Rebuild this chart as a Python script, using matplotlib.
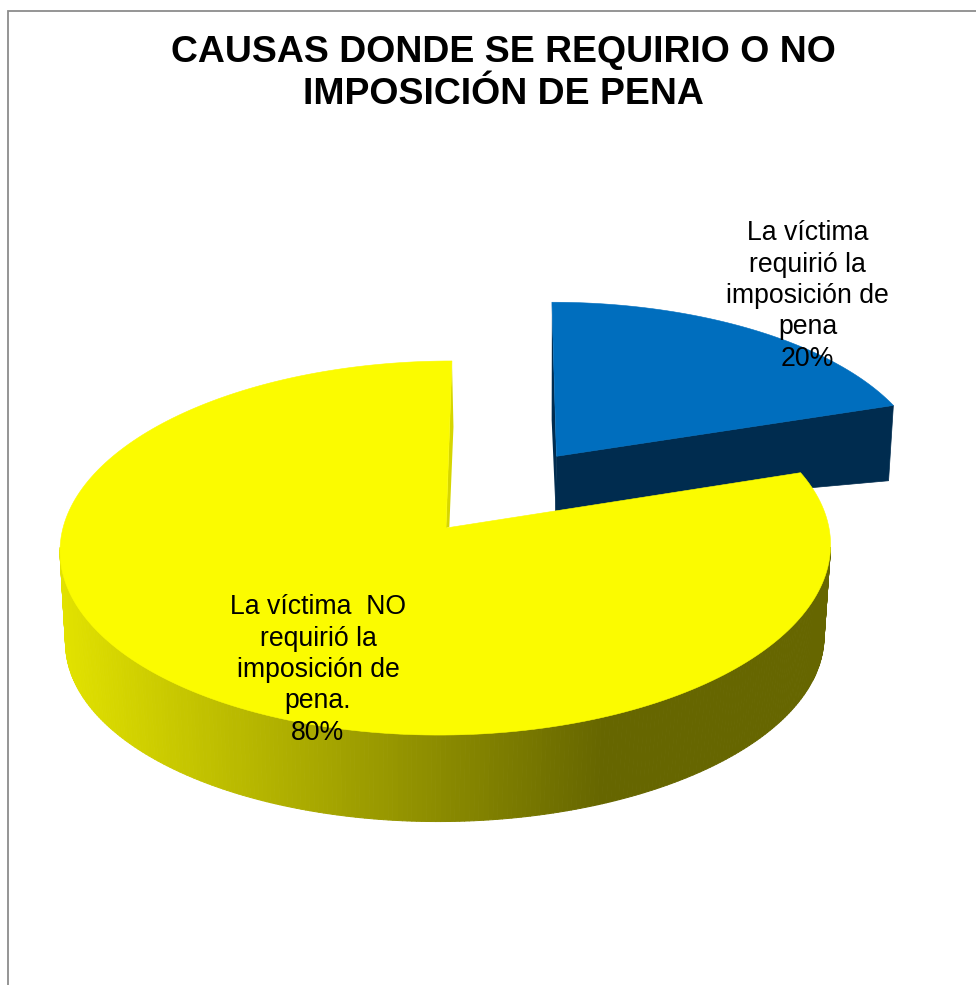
import numpy as np
import matplotlib
matplotlib.use("Agg")
import matplotlib.pyplot as plt
from matplotlib.patches import Polygon
from matplotlib.collections import PolyCollection

# Chart content
categories = ["La víctima\nrequirió la\nimposición de\npena",
              "La víctima  NO\nrequirió la\nimposición de\npena."]
percentages = [20, 80]
explode = [0.5, 0.0]
title = "CAUSAS DONDE SE REQUIRIO O NO\nIMPOSICIÓN DE PENA"

# Pixel-space camera for the tilted pie: centre, radii, shear, perspective
TOP_PLANE = dict(cx=446.0, cy=528.0, rx=383.0, ry=184.9, shear=6.6, k=0.107)
BASE_PLANE = dict(cx=445.5, cy=620.0, rx=377.0, ry=180.0, shear=6.6, k=0.107)
BLUE_BASE_PLANE = dict(cx=446.4, cy=553.0, rx=378.5, ry=109.0, shear=6.6, k=0.107)

BLUE = "#006EBE"
NAVY = "#002C4F"
YELLOW = "#FBFB00"
CUT_WALL = "#D6D600"
WALL_LIGHT = np.array([226, 226, 0]) / 255
WALL_DARK = np.array([102, 102, 0]) / 255
FRAME = "#8C8C8C"


def project(x, y, plane):
    """Map unit-circle plane coordinates to pixel positions."""
    w = 1 + plane["k"] * y
    return (plane["cx"] + (plane["rx"] * x + plane["shear"] * y) / w,
            plane["cy"] - plane["ry"] * y / w)


def rim(theta_deg, offset, plane):
    t = np.radians(theta_deg)
    return project(np.sin(t) + offset[0], np.cos(t) + offset[1], plane)


def wedge(start, end, offset, plane, n=240):
    rx, ry = rim(np.linspace(start, end, n), offset, plane)
    ax_, ay_ = project(offset[0], offset[1], plane)
    return np.column_stack([np.r_[ax_, rx], np.r_[ay_, ry]])


fig = plt.figure(figsize=(9.76, 9.85), dpi=100, facecolor="white")
ax = fig.add_axes([0, 0, 1, 1])
ax.set_xlim(0, 976)
ax.set_ylim(985, 0)
ax.axis("off")

# Chart-area frame: only the top and left sides fall inside the canvas
ax.plot([8, 8, 980], [990, 10.5, 10.5], color=FRAME, lw=1.3, solid_joinstyle="miter")

# Slice angles run clockwise from twelve o'clock
edges = np.r_[0, np.cumsum(percentages)] * 360 / sum(percentages)
mid = np.radians((edges[0] + edges[1]) / 2)
blue_off = (explode[0] * np.sin(mid), explode[0] * np.cos(mid))
yellow_off = (0.0, 0.0)

# Detached slice: side faces, then its top
bx, by = project(blue_off[0], blue_off[1], TOP_PLANE)
blx, bly = project(blue_off[0], blue_off[1], BLUE_BASE_PLANE)
trx, try_ = rim(edges[1], blue_off, TOP_PLANE)
brx, bry = rim(edges[1], blue_off, BLUE_BASE_PLANE)
ax.add_patch(Polygon([(bx, by), (trx, try_), (brx, bry), (blx, bly)],
                     closed=True, fc=NAVY, ec=NAVY, lw=0.5))
tbx, tby = rim(edges[0], blue_off, TOP_PLANE)
lbx, lby = rim(edges[0], blue_off, BLUE_BASE_PLANE)
ax.add_patch(Polygon([(tbx, tby), (lbx + 0.5, lby), (blx, bly), (bx, by)],
                     closed=True, fc=NAVY, ec="none"))
ax.add_patch(Polygon(wedge(edges[0], edges[1], blue_off, TOP_PLANE),
                     closed=True, fc=BLUE, ec=BLUE, lw=0.4))

# Outer wall of the large slice, shaded from left to right
thetas = np.linspace(96, 264, 260)
top_x, top_y = rim(thetas, yellow_off, TOP_PLANE)
low_x, low_y = rim(thetas, yellow_off, BASE_PLANE)
strips, colours = [], []
for i in range(len(thetas) - 1):
    strips.append([(top_x[i], top_y[i]), (top_x[i + 1], top_y[i + 1]),
                   (low_x[i + 1], low_y[i + 1]), (low_x[i], low_y[i])])
    frac = np.clip((0.5 * (low_x[i] + low_x[i + 1]) - 66) / (600 - 66), 0, 1)
    colours.append(WALL_LIGHT + (WALL_DARK - WALL_LIGHT) * frac)
ax.add_collection(PolyCollection(strips, facecolors=colours, edgecolors=colours,
                                 linewidths=0.7))

# Cut wall seen through the gap, then the top of the large slice
backx, backy = rim(edges[2], yellow_off, TOP_PLANE)
apx, apy = project(0, 0, TOP_PLANE)
ax.add_patch(Polygon([(backx, backy), (backx + 1.5, backy + 66),
                      (apx + 3.3, apy - 0.8), (apx, apy)],
                     closed=True, fc=CUT_WALL, ec="none"))
ax.add_patch(Polygon(wedge(edges[1], edges[2], yellow_off, TOP_PLANE),
                     closed=True, fc=YELLOW, ec=YELLOW, lw=0.4))

# Text
FONT = "Liberation Sans"
ax.text(503, 73.5, title, ha="center", va="center", family=FONT, weight="bold",
        fontsize=26.9, linespacing=1.26, color="black")
ax.text(807.5, 296, f"{categories[0]}\n{percentages[0]}%", ha="center", va="center",
        family=FONT, fontsize=19.2, linespacing=1.27, color="black")
ax.text(318, 670, f"{categories[1]}\n{percentages[1]}%", ha="center", va="center",
        family=FONT, fontsize=19.2, linespacing=1.27, color="black")

fig.savefig("out.png", dpi=100, facecolor="white")
